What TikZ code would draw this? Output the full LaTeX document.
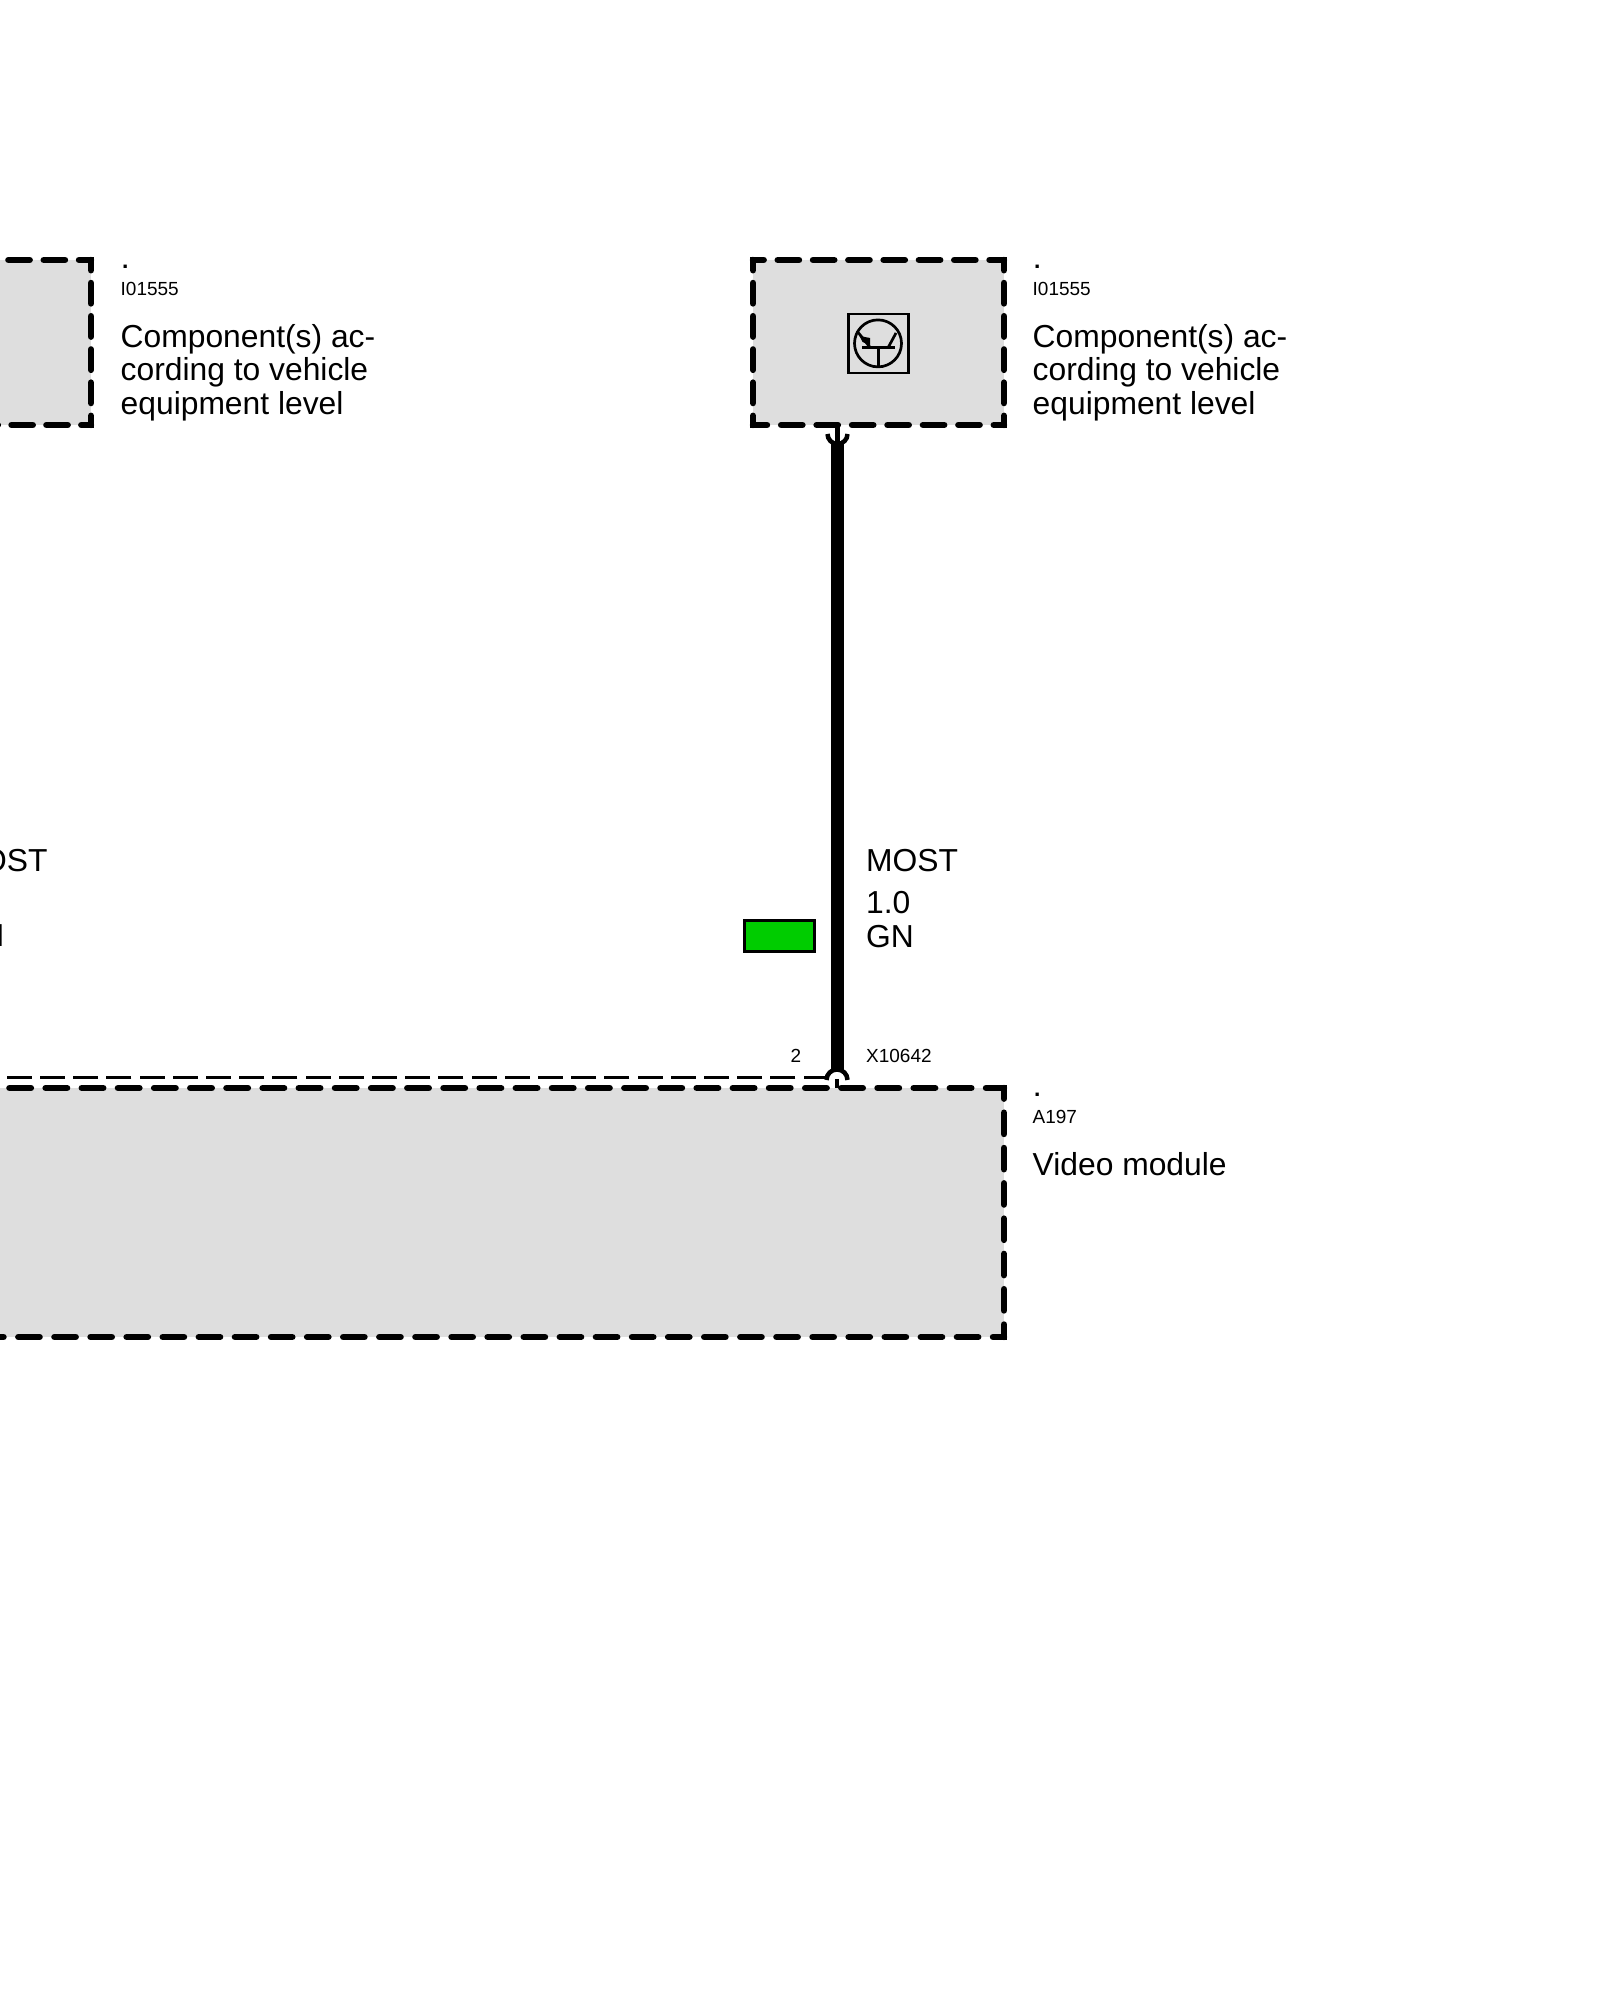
\documentclass[tikz,border=0pt]{standalone}
\usepackage{fontspec}
\setmainfont{Liberation Sans}
\definecolor{boxgray}{HTML}{DEDEDE}
\definecolor{wiregreen}{HTML}{00CC00}
\tikzset{
    boxfill/.style={fill=boxgray,inner sep=0,outer sep=0},
    sideline/.style={line width=0.064cm,line cap=round},
    bigtext/.style={font=\fontsize{9.05}{9.55}\selectfont,inner sep=0,anchor=north west,align=left},
    smalltext/.style={font=\fontsize{5.4}{6}\selectfont,inner sep=0,anchor=base west},
    dottext/.style={font=\fontsize{6.5}{8}\selectfont\bfseries,inner sep=0,anchor=base west},
    thinwire/.style={line width=0.045cm},
    symbolline/.style={line width=0.027cm}
}
\begin{document}
\begin{tikzpicture}
            \useasboundingbox (0, 0) rectangle (16, 20);
            \clip (0, 0) rectangle (16, 20);
            \fill[white] (0, 0) rectangle (16, 20);

            \node[boxfill,minimum width=2.51cm,minimum height=1.65cm] (cmpleft) at (-0.345, 16.575) {};
            \node[boxfill,minimum width=2.51cm,minimum height=1.65cm] (cmpright) at (8.785, 16.575) {};
            \node[boxfill,minimum width=10.24cm,minimum height=2.49cm] (video) at (4.92, 7.875) {};

            % left box
            \draw[sideline,dash pattern=on 0.213cm off 0.14cm,dash phase=0.093cm] (cmpleft.north east) -- (cmpleft.north west);
            \draw[sideline,dash pattern=on 0.205cm off 0.127cm,dash phase=0.102cm] (cmpleft.north east) -- (cmpleft.south east);
            \draw[sideline,dash pattern=on 0.213cm off 0.136cm,dash phase=0.116cm] (cmpleft.south east) -- (cmpleft.south west);

            % right box
            \draw[sideline,dash pattern=on 0.213cm off 0.14cm,dash phase=0.106cm] (cmpright.north west) -- (cmpright.north east);
            \draw[sideline,dash pattern=on 0.205cm off 0.127cm,dash phase=0.102cm] (cmpright.north west) -- (cmpright.south west);
            \draw[sideline,dash pattern=on 0.205cm off 0.127cm,dash phase=0.102cm] (cmpright.north east) -- (cmpright.south east);
            \draw[sideline,dash pattern=on 0.213cm off 0.1414cm,dash phase=0.073cm] (cmpright.south west) -- (cmpright.south east);

            % video module
            \draw[sideline,dash pattern=on 0.215cm off 0.1467cm,dash phase=0.035cm] (video.north east) -- (video.north west);
            \draw[sideline,dash pattern=on 0.213cm off 0.14cm,dash phase=0.106cm] (video.north east) -- (video.south east);
            \draw[sideline,dash pattern=on 0.213cm off 0.148cm,dash phase=0.103cm] (video.south east) -- (video.south west);

            % square corners
            \foreach \c in {cmpleft.north east,cmpleft.south east,cmpright.north west,cmpright.north east,cmpright.south west,cmpright.south east,video.north east,video.south east} {
                \fill (\c) ++(-0.032, -0.032) rectangle ++(0.064, 0.064);
            }

            % transistor symbol
            \node[draw,symbolline,minimum width=0.60cm,minimum height=0.59cm,inner sep=0] (symbol) at (8.785, 16.565) {};
            \node[draw,circle,symbolline,minimum size=0.47cm,inner sep=0] (symbolring) at (8.78, 16.566) {};
            \coordinate (barleft) at (8.62, 16.527);
            \coordinate (barright) at (8.95, 16.527);
            \draw[symbolline] (barleft) -- (barright);
            \draw[symbolline] (8.783, 16.527) -- (symbolring.south -| 8.783, 0);
            \draw[symbolline] (8.70, 16.527) -- (8.57, 16.69);
            \draw[symbolline] (8.883, 16.527) -- (8.96, 16.67);
            \fill (8.595, 16.64) -- (8.70, 16.62) -- (8.70, 16.55) -- (8.625, 16.58) -- cycle;

            % wire
            \coordinate (forkbase) at (8.375, 15.57);
            \coordinate (archbase) at (8.37, 9.21);
            \draw[line width=0.125cm] (forkbase) -- (8.375, 9.3);
            \draw[thinwire] (cmpright.south -| forkbase) -- (forkbase);
            \draw[thinwire] (8.275, 15.66) arc[start angle=180,end angle=360,radius=0.1cm];
            \draw[thinwire] (archbase) -- (video.north -| archbase);
            \draw[thinwire] (8.265, 9.2) arc[start angle=180,end angle=0,radius=0.105cm];
            \coordinate (dashend) at (8.265, 9.22);
            \draw[line width=0.03cm,dash pattern=on 0.25cm off 0.082cm,dash phase=0.02cm] (dashend) -- (dashend -| video.west);

            % green mark
            \node[draw,line width=0.03cm,fill=wiregreen,minimum width=0.70cm,minimum height=0.31cm,inner sep=0] (mark) at (7.797, 10.64) {};

            % labels
            \node[dottext] (leftdot) at (1.215, 17.31) {.};
            \node[smalltext] (leftcode) at (1.2, 17.04) {I01555};
            \node[bigtext] (lefttext) at (1.2, 16.765) {Component(s) ac-\\cording to vehicle\\equipment level};
            \node[dottext] (rightdot) at (10.335, 17.31) {.};
            \node[smalltext] (rightcode) at (10.32, 17.04) {I01555};
            \node[bigtext] (righttext) at (10.32, 16.765) {Component(s) ac-\\cording to vehicle\\equipment level};
            \node[dottext] (videodot) at (10.335, 9.03) {.};
            \node[smalltext] (videocode) at (10.32, 8.76) {A197};
            \node[bigtext] (videotext) at (10.32, 8.485) {Video module};
            \node[bigtext] (leftmost) at (-0.45, 11.51) {MOST};
            \node[bigtext] (leftgn) at (-0.44, 10.76) {GN};
            \node[bigtext] (rightmost) at (8.655, 11.51) {MOST};
            \node[bigtext] (rightgauge) at (8.655, 11.09) {1.0\\GN};
            \node[smalltext] (pin) at (7.90, 9.37) {2};
            \node[smalltext] (connector) at (8.655, 9.37) {X10642};
        \end{tikzpicture}
\end{document}
